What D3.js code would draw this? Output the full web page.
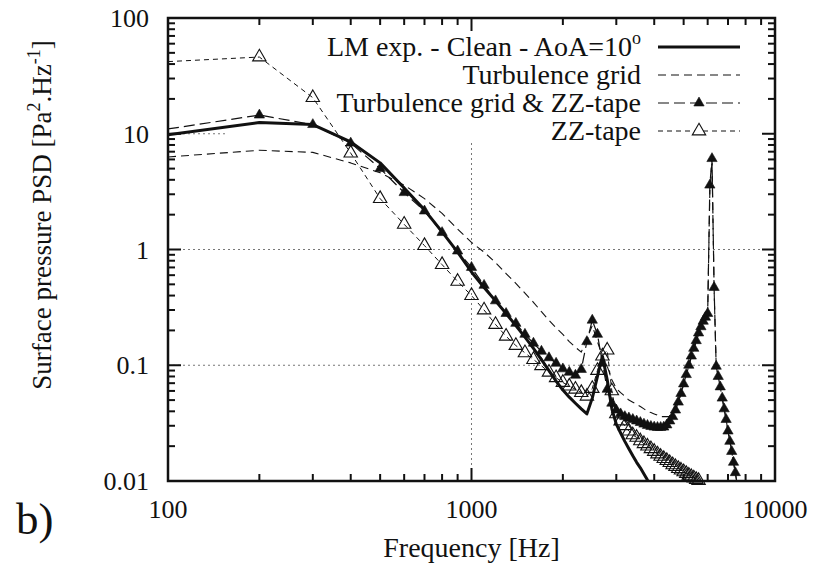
<!DOCTYPE html>
<html>
<head>
<meta charset="utf-8">
<script src="https://cdn.jsdelivr.net/npm/d3@7"></script>
</head>
<body style="margin:0">
<script>
const freq = [100, 200, 300, 400, 500, 600, 700, 800, 900, 1000,
  1100, 1200, 1300, 1400, 1500, 1600, 1700, 1800, 1900, 2000,
  2100, 2200, 2300, 2400, 2500, 2600, 2700, 2800, 2900, 3000,
  3100, 3200, 3300, 3400, 3500, 3600, 3700, 3800, 3900, 4000,
  4100, 4200, 4300, 4400, 4500, 4600, 4700, 4800, 4900, 5000,
  5100, 5200, 5300, 5400, 5500, 5600, 5700, 5800, 5900, 6000,
  6100, 6200, 6300, 6400, 6500, 6600, 6700, 6800, 6900, 7000,
  7100, 7200, 7300, 7400, 7500];

const clean = [9.8, 12.5, 12.0, 8.5, 5.6, 3.4, 2.2, 1.42, 0.95, 0.64,
  0.47, 0.36, 0.28, 0.22, 0.175, 0.14, 0.112, 0.09, 0.073, 0.061,
  0.053, 0.047, 0.042, 0.038, 0.052, 0.08, 0.12, 0.075, 0.042, 0.031,
  0.026, 0.022, 0.019, 0.0165, 0.0145, 0.013, 0.0115, 0.0102, 0.0092, 0.0083];

const turbGrid = [6.3, 7.2, 6.9, 5.6, 4.6, 3.6, 2.75, 2.05, 1.5, 1.15,
  0.95, 0.77, 0.62, 0.51, 0.42, 0.35, 0.29, 0.245, 0.21, 0.185,
  0.16, 0.143, 0.13, 0.17, 0.22, 0.16, 0.12, 0.098, 0.075, 0.063,
  0.058, 0.054, 0.05, 0.048, 0.046, 0.044, 0.042, 0.04, 0.039, 0.038,
  0.037, 0.036, 0.036, 0.036, 0.036, 0.038, 0.042, 0.048, 0.057, 0.068,
  0.082, 0.098, 0.117, 0.138, 0.16, 0.185, 0.21, 0.235, 0.255, 0.275,
  3.2, 5.8, 0.45, 0.1, 0.08, 0.065, 0.052, 0.042, 0.034, 0.027,
  0.022, 0.018, 0.0145, 0.0118, 0.0095];

const turbGridZZ = [11, 14.5, 12, 8.3, 5.0, 3.1, 2.15, 1.4, 0.97, 0.7,
  0.49, 0.36, 0.28, 0.23, 0.185, 0.155, 0.132, 0.116, 0.104, 0.093,
  0.087, 0.082, 0.092, 0.16, 0.245, 0.185, 0.104, 0.062, 0.047, 0.041,
  0.038, 0.036, 0.035, 0.034, 0.033, 0.032, 0.031, 0.0302, 0.0296, 0.0292,
  0.029, 0.029, 0.0292, 0.0305, 0.033, 0.036, 0.041, 0.048, 0.057, 0.069,
  0.083, 0.1, 0.12, 0.14, 0.163, 0.19, 0.215, 0.24, 0.26, 0.28,
  3.6, 6.1, 0.47, 0.098, 0.08, 0.065, 0.052, 0.042, 0.034, 0.027,
  0.022, 0.018, 0.0145, 0.0118, 0.0095];

const zzTape = [42, 46, 20.5, 6.8, 2.75, 1.65, 1.08, 0.74, 0.53, 0.40,
  0.30, 0.225, 0.178, 0.148, 0.128, 0.112, 0.099, 0.087, 0.078, 0.071,
  0.066, 0.062, 0.058, 0.054, 0.063, 0.09, 0.12, 0.135, 0.06, 0.038,
  0.033, 0.030, 0.027, 0.025, 0.0238, 0.0222, 0.021, 0.02, 0.019, 0.018,
  0.0171, 0.0163, 0.0156, 0.015, 0.0144, 0.0138, 0.0133, 0.0128, 0.0124, 0.012,
  0.0116, 0.0112, 0.0109, 0.0106, 0.0103, 0.0101, 0.0099, 0.0097];

const xTickLabels = ["100", "1000", "10000"];
const yTickLabels = ["0.01", "0.1", "1", "10", "100"];
const legendLabels = ["LM exp. - Clean - AoA=10", "Turbulence grid",
  "Turbulence grid & ZZ-tape", "ZZ-tape"];

// Dimensions
const dims = { width: 828, height: 569, left: 168, right: 775, top: 18, bottom: 481 };
const fontName = "Liberation Serif";

const svg = d3.select("body").append("svg")
  .attr("width", dims.width)
  .attr("height", dims.height);

// every text gets the font inline
function label(sel, size) {
  return sel.attr("font-size", size)
    .attr("fill", "#111")
    .style("font-family", () => `"${fontName}", serif`);
}

// Scales
const x = d3.scaleLog().domain([100, 10000]).range([dims.left, dims.right]);
const y = d3.scaleLog().domain([0.01, 100]).range([dims.bottom, dims.top]);

const xMajor = xTickLabels.map(Number);
const yMajor = yTickLabels.map(Number);
const xMinor = x.ticks().filter(t => !xMajor.includes(t));
const yMinor = y.ticks().filter(t => !yMajor.some(m => Math.abs(m - t) / m < 1e-9));

// Grid (dotted), interior major lines only
const grid = svg.append("g").attr("stroke", "#777").attr("stroke-width", 1)
  .attr("stroke-dasharray", "2,3");
grid.selectAll("line.gx").data(xMajor.slice(1, -1)).join("line")
  .attr("x1", d => x(d)).attr("x2", d => x(d))
  .attr("y1", dims.top).attr("y2", dims.bottom);
grid.selectAll("line.gy").data(yMajor.slice(1, -1)).join("line")
  .attr("x1", dims.left).attr("x2", dims.right)
  .attr("y1", d => y(d)).attr("y2", d => y(d));

// opaque key area hides the grid behind the legend
svg.append("rect")
  .attr("x", 227).attr("y", dims.top)
  .attr("width", dims.right - 227).attr("height", 125)
  .attr("fill", "#fff");

// Curves
svg.append("clipPath").attr("id", "plot")
  .append("rect")
  .attr("x", dims.left).attr("y", dims.top)
  .attr("width", dims.right - dims.left).attr("height", dims.bottom - dims.top);

const series = [
  { values: clean, width: 3, dash: null, marker: null },
  { values: turbGrid, width: 1.1, dash: "8,5", marker: null },
  { values: turbGridZZ, width: 1.2, dash: "11,5", marker: "filled" },
  { values: zzTape, width: 1, dash: "5,4", marker: "open" },
];

const line = d3.line()
  .x(d => x(d.f))
  .y(d => y(d.v));

const plot = svg.append("g").attr("clip-path", "url(#plot)");

const triFilled = d3.symbol().type(d3.symbolTriangle).size(46);
const triOpen = d3.symbol().type(d3.symbolTriangle).size(78);

series.forEach(s => {
  const pts = s.values.map((v, i) => ({ f: freq[i], v }));
  plot.append("path")
    .datum(pts)
    .attr("d", line)
    .attr("fill", "none")
    .attr("stroke", "#111")
    .attr("stroke-width", s.width)
    .attr("stroke-linejoin", "round")
    .attr("stroke-dasharray", s.dash);

  if (s.marker) {
    // no marker on the left border point, like the original
    const inRange = pts.filter(d => d.f > 100 && d.v >= 0.01 && d.v <= 100);
    svg.append("g").selectAll("path")
      .data(inRange)
      .join("path")
      .attr("transform", d => `translate(${x(d.f)},${y(d.v)})`)
      .attr("d", s.marker === "filled" ? triFilled : triOpen)
      .attr("fill", s.marker === "filled" ? "#111" : "none")
      .attr("stroke", "#111")
      .attr("stroke-width", s.marker === "filled" ? 0.6 : 1.1);
  }
});

// Frame and inward ticks on all four sides
const axes = svg.append("g").attr("stroke", "#111").attr("stroke-width", 2);
const majorLen = 13, minorLen = 7;

function ticksX(vals, len) {
  vals.forEach(v => {
    axes.append("line").attr("x1", x(v)).attr("x2", x(v))
      .attr("y1", dims.bottom).attr("y2", dims.bottom - len);
    axes.append("line").attr("x1", x(v)).attr("x2", x(v))
      .attr("y1", dims.top).attr("y2", dims.top + len);
  });
}
function ticksY(vals, len) {
  vals.forEach(v => {
    axes.append("line").attr("y1", y(v)).attr("y2", y(v))
      .attr("x1", dims.left).attr("x2", dims.left + len);
    axes.append("line").attr("y1", y(v)).attr("y2", y(v))
      .attr("x1", dims.right).attr("x2", dims.right - len);
  });
}
ticksX(xMajor, majorLen);
ticksX(xMinor, minorLen);
ticksY(yMajor, majorLen);
ticksY(yMinor, minorLen);

svg.append("rect")
  .attr("x", dims.left).attr("y", dims.top)
  .attr("width", dims.right - dims.left).attr("height", dims.bottom - dims.top)
  .attr("fill", "none").attr("stroke", "#111").attr("stroke-width", 2.5);

// Tick labels
svg.append("g").selectAll("text")
  .data(xMajor)
  .join("text")
  .attr("x", d => x(d))
  .attr("y", 518)
  .attr("text-anchor", "middle")
  .call(label, 26)
  .text((d, i) => xTickLabels[i]);

svg.append("g").selectAll("text")
  .data(yMajor)
  .join("text")
  .attr("x", 149)
  .attr("y", d => y(d) + 9)
  .attr("text-anchor", "end")
  .call(label, 26)
  .text((d, i) => yTickLabels[i]);

// Axis titles
svg.append("text")
  .attr("x", (dims.left + dims.right) / 2)
  .attr("y", 557)
  .attr("text-anchor", "middle")
  .call(label, 28)
  .text("Frequency [Hz]");

const yTitle = svg.append("text")
  .attr("transform", `translate(51, 215) rotate(-90)`)
  .attr("text-anchor", "middle")
  .call(label, 27);
yTitle.append("tspan").text("Surface pressure PSD [Pa");
yTitle.append("tspan").attr("dy", -11).attr("font-size", 18).text("2");
yTitle.append("tspan").attr("dy", 11).text(".Hz");
yTitle.append("tspan").attr("dy", -11).attr("font-size", 18).text("-1");
yTitle.append("tspan").attr("dy", 11).text("]");

svg.append("text")
  .attr("x", 16).attr("y", 534)
  .call(label, 45)
  .text("b)");

// Legend
const rowY = [47, 75, 103, 131];
const legend = svg.append("g");
series.forEach((s, i) => {
  const t = legend.append("text")
    .attr("x", 641).attr("y", rowY[i] + 9)
    .attr("text-anchor", "end")
    .call(label, 28);
  t.append("tspan").text(legendLabels[i]);
  if (i === 0) {
    t.append("tspan").attr("dy", -12).attr("font-size", 18).text("o");
  }
  legend.append("line")
    .attr("x1", 658).attr("x2", 740)
    .attr("y1", rowY[i]).attr("y2", rowY[i])
    .attr("stroke", "#111")
    .attr("stroke-width", s.width)
    .attr("stroke-dasharray", s.dash);
  if (s.marker) {
    legend.append("path")
      .attr("transform", `translate(699,${rowY[i]})`)
      .attr("d", s.marker === "filled" ? triFilled : triOpen)
      .attr("fill", s.marker === "filled" ? "#111" : "#fff")
      .attr("stroke", "#111")
      .attr("stroke-width", s.marker === "filled" ? 0.6 : 1.1);
  }
});
</script>
</body>
</html>
